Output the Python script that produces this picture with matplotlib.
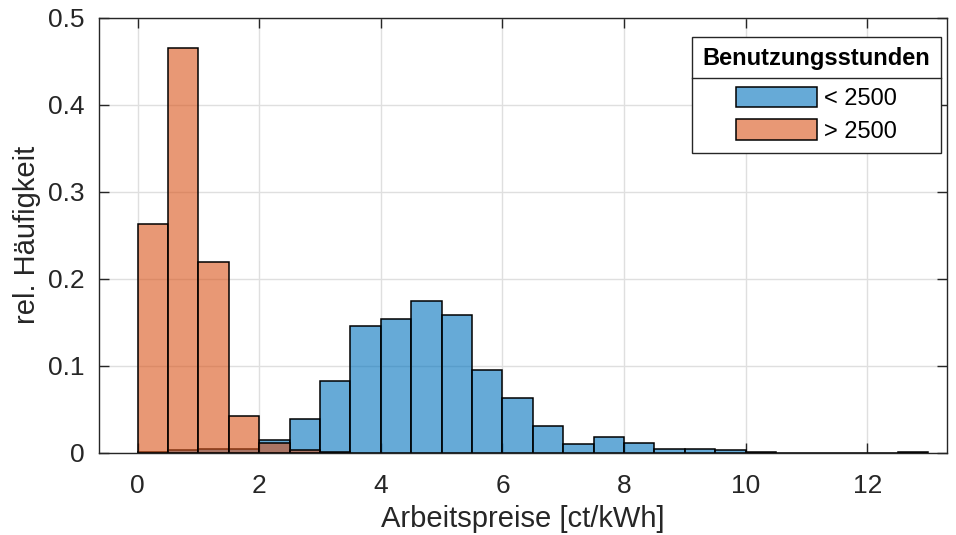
import numpy as np
import matplotlib.pyplot as plt
from matplotlib.lines import Line2D

# --- data (relative frequencies per 0.5 ct/kWh bin) ---
bin_width = 0.5
blue_start = 0.0
orange_start = 0.0

freq_low = [0.001, 0.003, 0.0046, 0.0046, 0.015, 0.0395, 0.083, 0.146,
            0.154, 0.175, 0.158, 0.0956, 0.0637, 0.031, 0.010, 0.018,
            0.011, 0.0046, 0.0046, 0.0035, 0.0008, 0.0005, 0.0005, 0.0004,
            0.0005, 0.0015]
freq_high = [0.2627, 0.465, 0.219, 0.042, 0.012, 0.003, 0.001]

label_low = '< 2500'
label_high = '> 2500'
legend_title = 'Benutzungsstunden'

plt.rcParams['font.family'] = ['Liberation Sans', 'DejaVu Sans']

blue = (0.0, 0.447, 0.741, 0.6)
orange = (0.85, 0.325, 0.098, 0.6)
axcol = '#262626'

fig = plt.figure(figsize=(9.56, 5.35), dpi=100)
ax = fig.add_axes([0.1032, 0.1533, 0.8874, 0.8137])

x_low = blue_start + bin_width * np.arange(len(freq_low))
x_high = orange_start + bin_width * np.arange(len(freq_high))

ax.bar(x_low, freq_low, width=bin_width, align='edge', facecolor=blue,
       edgecolor='black', linewidth=1.1, label=label_low, zorder=2)
ax.bar(x_high, freq_high, width=bin_width, align='edge', facecolor=orange,
       edgecolor='black', linewidth=1.1, label=label_high, zorder=3)

ax.set_xlim(-0.64, 13.31)
ax.set_ylim(0, 0.5)
ax.set_xticks(np.arange(0, 13, 2))
ax.set_yticks(np.arange(0, 0.51, 0.1))
ax.set_yticklabels(['0', '0.1', '0.2', '0.3', '0.4', '0.5'])

ax.grid(True, color='#dfdfdf', linewidth=1.0, zorder=0)
ax.set_axisbelow(True)
for s in ax.spines.values():
    s.set_color(axcol)
    s.set_linewidth(1.0)
    s.set_zorder(4)
ax.tick_params(direction='in', length=7, width=1.0, color=axcol,
               labelcolor=axcol, labelsize=19, top=True, right=True)
ax.tick_params(axis='x', pad=15)
ax.tick_params(axis='y', pad=10)

ax.set_xlabel('Arbeitspreise [ct/kWh]', fontsize=21, color=axcol, labelpad=5)
ax.set_ylabel('rel. Häufigkeit', fontsize=21, color=axcol, labelpad=5)

leg = ax.legend(title=legend_title, loc='upper right', bbox_to_anchor=(0.993, 0.956),
                borderaxespad=0, fancybox=False, framealpha=1, edgecolor=axcol,
                fontsize=17, title_fontproperties={'weight': 'bold', 'size': 17},
                handlelength=3.4, handleheight=0.95, handletextpad=0.3,
                labelspacing=0.38, borderpad=0.45)
leg.get_frame().set_linewidth(1.0)
leg.set_zorder(10)
# more room between the title and the entries
leg._legend_box.sep = 12

# separator line under legend title
fig.canvas.draw()
fb = leg.get_frame().get_window_extent()
tb = leg.get_title().get_window_extent()
hb = leg._legend_handle_box.get_window_extent(fig.canvas.get_renderer())
ysep = 0.5 * (tb.y0 + hb.y1) + 1
inv = fig.transFigure.inverted()
(x0, y0) = inv.transform((fb.x0, ysep))
(x1, _) = inv.transform((fb.x1, ysep))
fig.add_artist(Line2D([x0, x1], [y0, y0], color=axcol, linewidth=1.0, zorder=11))

fig.savefig('out.png', dpi=100)
